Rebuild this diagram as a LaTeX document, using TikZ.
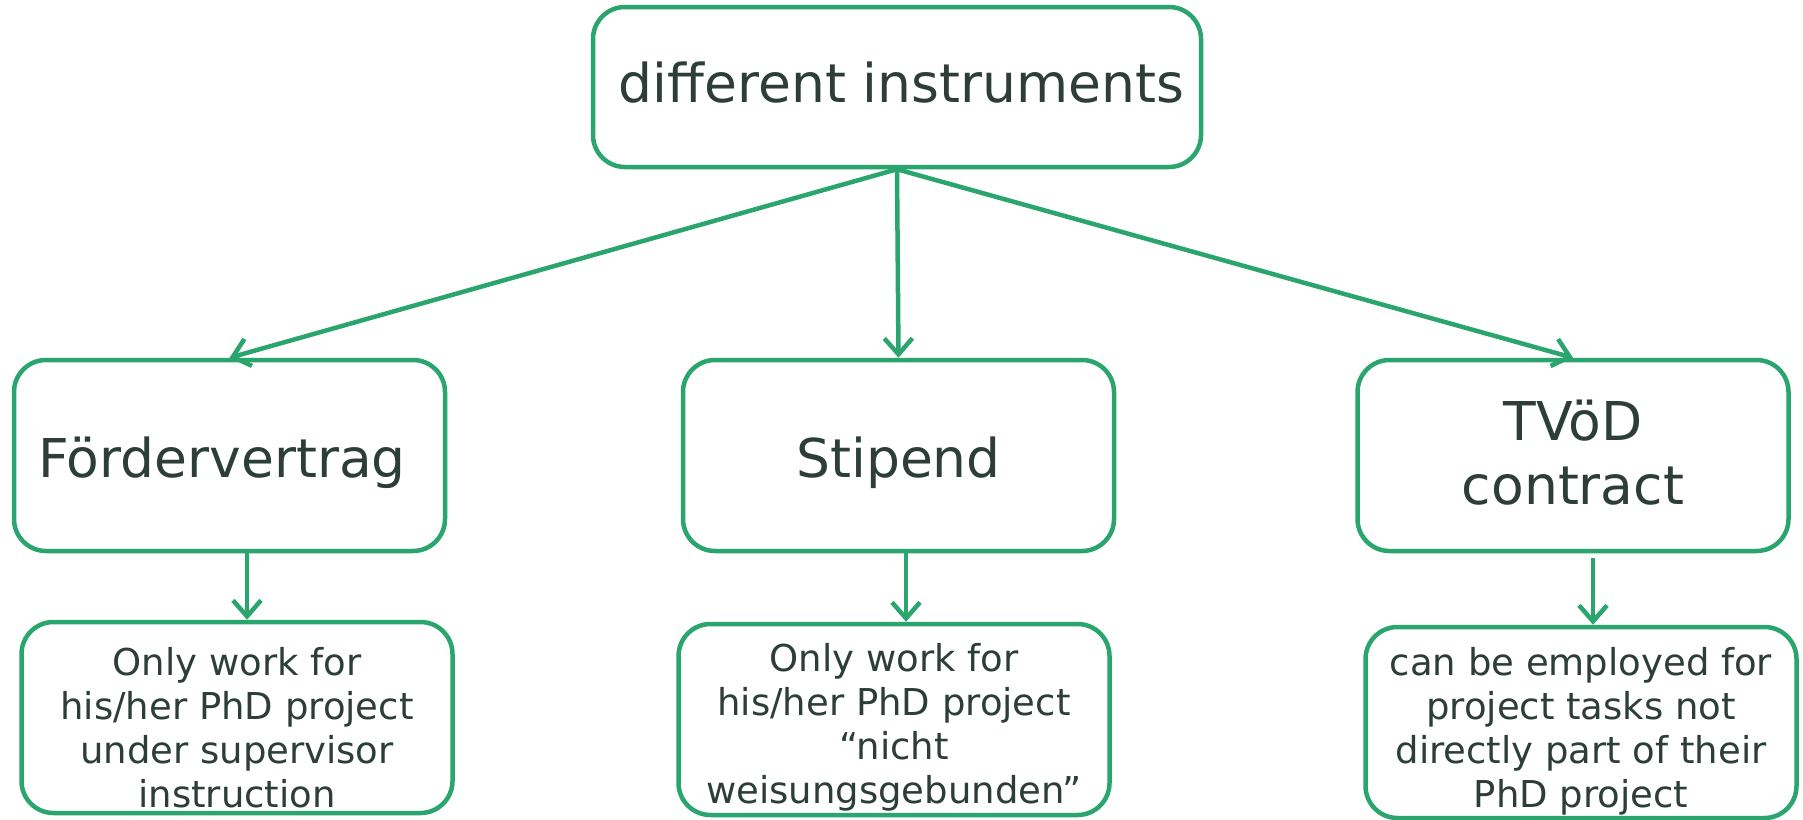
\documentclass[tikz,border=0pt]{standalone}
\usepackage{fontspec}
\setmainfont{DejaVu Sans}
\usetikzlibrary{arrows.meta}
\definecolor{boxgreen}{RGB}{42,165,110}
\definecolor{ink}{RGB}{45,62,56}

\begin{document}
\begin{tikzpicture}[x=1pt,y=-1pt,
  box/.style={draw=boxgreen, line width=4.5pt, rounded corners=32pt, fill=white,
    inner sep=0pt, minimum width=431pt, minimum height=191pt, align=center, text=ink},
  big/.style={font=\fontsize{53.5}{64}\selectfont},
  small/.style={font=\fontsize{37}{44}\selectfont},
  link/.style={draw=boxgreen, line width=4.5pt,
    -{Straight Barb[length=16pt,width=28pt,line width=4.5pt]}}]
\useasboundingbox (0,0) rectangle (1803,819);

% top level
\node[box,big,minimum width=608pt,minimum height=160pt,text height=40pt,text depth=10pt]
  (top) at (897,87) {\hspace{9pt}different instruments};

% the three instruments
\node[box,big,text height=45pt,text depth=2pt] (ford) at (229.5,455.5) {Fördervertrag\hspace{15pt}};
\node[box,big,text height=45pt,text depth=2pt] (stip) at (898.5,455.5) {Stipend};
\node[box,big,text height=104pt,text depth=7pt] (tvod) at (1573,455.5) {TVöD\\contract};

% notes below each instrument
\node[box,small,text height=182pt,text depth=3pt] (fordnote) at (237,717.5)
  {Only work for\\his/her PhD project\\under supervisor\\instruction};
\node[box,small,text height=174pt,text depth=7pt] (stipnote) at (894,719.5)
  {Only work for\\his/her PhD project\\“nicht\\weisungsgebunden”};
\node[box,small,text height=172pt,text depth=3pt] (tvodnote) at (1581,722.5)
  {can be employed for\\project tasks not\\directly part of their\\PhD project};

% connectors
\draw[link] (top.south) -- (ford.north);
\draw[link] (top.south) -- (stip.north);
\draw[link] (top.south) -- (tvod.north);
\draw[link] ([xshift=17.5pt]ford.south) -- ([xshift=10pt]fordnote.north);
\draw[link] ([xshift=7.5pt]stip.south) -- ([xshift=12pt]stipnote.north);
\draw[link] ([xshift=20pt,yshift=-5pt]tvod.south) -- ([xshift=12pt]tvodnote.north);
\end{tikzpicture}
\end{document}
